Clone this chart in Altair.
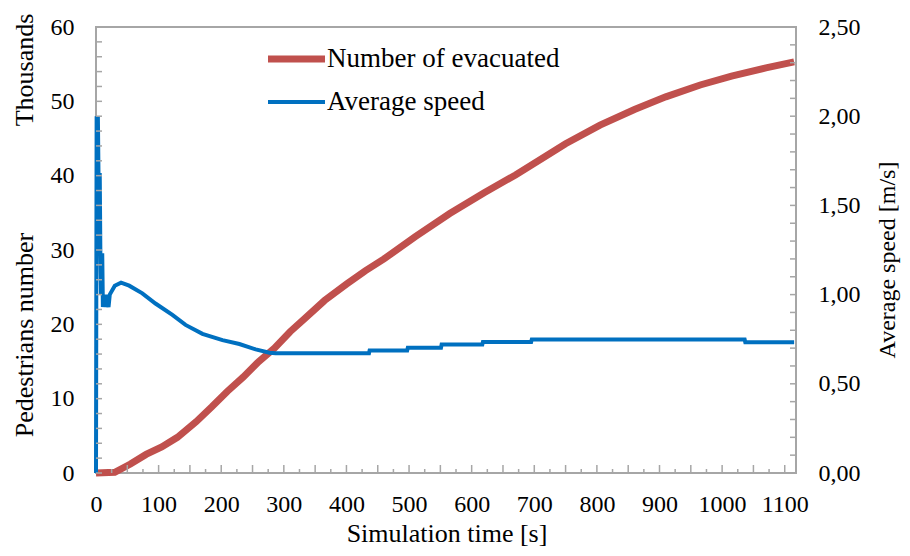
import altair as alt
import pandas as pd

# ---- data ----
time_evac = [0, 30, 55, 80, 105, 130, 160, 185, 210, 235, 260, 285, 310, 335, 365,
             400, 430, 460, 510, 565, 620, 670, 720, 750, 805, 860, 910, 965, 1015, 1070, 1115]
evacuated = [0, 0.1, 1.2, 2.5, 3.5, 4.8, 6.9, 8.9, 11.0, 12.9, 15.0, 16.8, 19.0, 20.9, 23.2,
             25.4, 27.2, 28.8, 31.8, 34.9, 37.7, 40.1, 42.7, 44.3, 46.8, 48.9, 50.6, 52.2, 53.4, 54.5, 55.3]

time_speed = [0, 1, 2, 3, 4, 6, 7, 8, 9, 10, 11, 13, 15, 17, 20, 22, 30, 40, 53, 74, 95, 122,
              143, 170, 202, 229, 255, 277, 287, 436, 437, 497, 498, 551, 552, 617, 618, 695,
              696, 1036, 1037, 1115]
speed = [0, 2.0, 1.67, 2.0, 1.67, 1.67, 1.22, 1.0, 1.22, 1.22, 0.93, 1.0, 0.93, 1.0, 0.93,
         1.0, 1.05, 1.067, 1.05, 1.007, 0.95, 0.886, 0.83, 0.78, 0.745, 0.723, 0.693, 0.674,
         0.671, 0.671, 0.687, 0.687, 0.702, 0.702, 0.72, 0.72, 0.735, 0.735, 0.748, 0.748,
         0.733, 0.733]

series_names = ["Number of evacuated", "Average speed"]
series_colors = ["#C0504D", "#0070C0"]
series_widths = [7, 4]

x_labels = list(range(0, 1101, 100))
left_labels = list(range(0, 61, 10))
right_labels = [0, 0.5, 1.0, 1.5, 2.0, 2.5]
left_minor = list(range(0, 61, 2))
right_minor = [round(i * 0.1, 1) for i in range(26)]
x_long = list(range(50, 1101, 50))
x_short = list(range(25, 1101, 50))

W, H = 700, 446
FONT = "Liberation Serif"
GRAY = "#a6a6a6"

xscale = alt.Scale(domain=[0, 1118], nice=False, zero=False)
yl = alt.Scale(domain=[0, 60], nice=False)
yr = alt.Scale(domain=[0, 2.5], nice=False)

evac_df = pd.DataFrame({"t": time_evac, "v": evacuated})
speed_df = pd.DataFrame({"t": time_speed, "v": speed})

x_axis = alt.Axis(values=x_labels, format="d", labelFont=FONT, labelFontSize=24,
                  labelColor="black", labelPadding=19, ticks=False, domain=False, grid=False,
                  title=None, labelFlush=False, labelOverlap=False)
left_axis = alt.Axis(values=left_labels, orient="left", labelFont=FONT, labelFontSize=24,
                     labelColor="black", labelPadding=22, ticks=False, domain=False,
                     grid=False, title=None, labelFlush=False)
right_axis = alt.Axis(values=right_labels, orient="right", labelFont=FONT, labelFontSize=24,
                      labelColor="black", labelPadding=22, ticks=False, domain=False,
                      grid=False, title=None, labelFlush=False,
                      labelExpr="replace(format(datum.value, '.2f'), '.', ',')")

X = alt.X("t:Q", scale=xscale, axis=x_axis)

red = alt.Chart(evac_df).mark_line(color=series_colors[0], strokeWidth=7).encode(
    x=X, y=alt.Y("v:Q", scale=yl, axis=left_axis))

blue = alt.Chart(speed_df).mark_line(color=series_colors[1], strokeWidth=4).encode(
    x=X, y=alt.Y("v:Q", scale=yr, axis=right_axis))

lticks = alt.Chart(pd.DataFrame({"v": left_minor})).mark_rule(color=GRAY, strokeWidth=1.5).encode(
    y=alt.Y("v:Q", scale=yl, axis=None), x=alt.value(0), x2=alt.value(6))
rticks = alt.Chart(pd.DataFrame({"v": right_minor})).mark_rule(color=GRAY, strokeWidth=1.5).encode(
    y=alt.Y("v:Q", scale=yr, axis=None), x=alt.value(W - 6), x2=alt.value(W))
xt_long = alt.Chart(pd.DataFrame({"t": x_long})).mark_rule(color=GRAY, strokeWidth=1.5).encode(
    x=X, y=alt.value(H), y2=alt.value(H - 8))
xt_short = alt.Chart(pd.DataFrame({"t": x_short})).mark_rule(color=GRAY, strokeWidth=1.5).encode(
    x=X, y=alt.value(H), y2=alt.value(H - 4))

legend_df = pd.DataFrame({"name": series_names, "color": series_colors, "width": series_widths})
leg_y = alt.Scale(type="point", domain=series_names, range=[32, 75], padding=0)
leg_lines = alt.Chart(legend_df).mark_rule().encode(
    y=alt.Y("name:N", scale=leg_y, axis=None),
    x=alt.value(172), x2=alt.value(229),
    color=alt.Color("color:N", scale=None, legend=None),
    strokeWidth=alt.StrokeWidth("width:Q", scale=None, legend=None),
)
leg_text = alt.Chart(legend_df).mark_text(align="left", baseline="middle", font=FONT,
                                          fontSize=27, color="black").encode(
    y=alt.Y("name:N", scale=leg_y, axis=None), x=alt.value(231), text="name:N")


def label(txt, x, y, angle=0, size=26, baseline="middle"):
    return alt.Chart(pd.DataFrame({"txt": [txt]})).mark_text(
        font=FONT, fontSize=size, color="black", align="center", baseline=baseline, angle=angle
    ).encode(text="txt:N", x=alt.value(x), y=alt.value(y))


titles = [
    label("Thousands", -71, 43, 270),
    label("Pedestrians number", -71, 308, 270),
    label("Average speed [m/s]", 792, 233, 270, 24),
    label("Simulation time [s]", 351, 515, 0, 26, "alphabetic"),
]

chart = alt.layer(red, blue, lticks, rticks, xt_long, xt_short, leg_lines, leg_text,
                  *titles).resolve_scale(
    y="independent"
).properties(
    width=W, height=H,
    padding={"left": 88, "top": 19, "right": 106, "bottom": 75},
    autosize=alt.AutoSizeParams(type="none"),
    background="white",
).configure_view(stroke=GRAY, strokeWidth=2)

chart.save("out.html", embed_options={"renderer": "svg", "actions": False})
